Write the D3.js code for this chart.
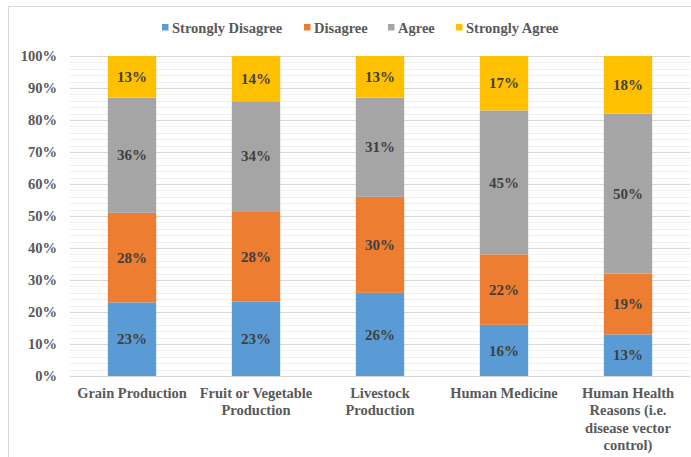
<!DOCTYPE html>
<html>
<head>
<meta charset="utf-8">
<script src="https://cdn.jsdelivr.net/npm/d3@7"></script>
<style>
  html, body { margin: 0; padding: 0; background: #fff; }
  svg { display: block; }
  svg text { font-family: "Liberation Serif", "DejaVu Serif", serif !important; font-weight: bold; }
</style>
</head>
<body>
<svg id="chart" width="691" height="457"></svg>
<script>
const categories = ["Grain Production", "Fruit or Vegetable\nProduction", "Livestock\nProduction", "Human Medicine", "Human Health\nReasons (i.e.\ndisease vector\ncontrol)"];
const seriesNames = ["Strongly Disagree", "Disagree", "Agree", "Strongly Agree"];
const stronglyDisagree = [23, 23, 26, 16, 13];
const disagree = [28, 28, 30, 22, 19];
const agree = [36, 34, 31, 45, 50];
const stronglyAgree = [13, 14, 13, 17, 18];
const yTicks = [0, 10, 20, 30, 40, 50, 60, 70, 80, 90, 100];
const colors = ["#5B9BD5", "#ED7D31", "#A5A5A5", "#FFC000"];

const seriesValues = [stronglyDisagree, disagree, agree, stronglyAgree];
const table = categories.map((c, i) => {
  const row = { category: c };
  seriesNames.forEach((s, j) => row[s] = seriesValues[j][i]);
  return row;
});

const svg = d3.select("#chart");
const margin = { left: 70, right: 1, top: 56, bottom: 81 };
const W = 691, H = 457;

svg.append("rect").attr("x", 8.5).attr("y", 6.5).attr("width", 700).attr("height", 470)
  .attr("fill", "none").attr("stroke", "#d9d9d9").attr("stroke-width", 1);

const x = d3.scaleBand().domain(categories).range([margin.left, W - margin.right]).paddingInner(0.61).paddingOuter(0.305);
const y = d3.scaleLinear().domain([0, 1]).range([H - margin.bottom, margin.top]);

const minor = d3.range(0, 101, 2).filter(v => v % 10 !== 0);
svg.append("g").selectAll("line").data(minor).join("line")
  .attr("x1", margin.left).attr("x2", W - margin.right)
  .attr("y1", d => Math.round(y(d / 100)) + 0.5).attr("y2", d => Math.round(y(d / 100)) + 0.5)
  .attr("stroke", "#efefef").attr("stroke-width", 1);

const yAxis = d3.axisLeft(y).tickValues(yTicks.map(v => v / 100)).tickFormat(d => Math.round(d * 100) + "%")
  .tickSize(-(W - margin.right - margin.left)).tickPadding(13);
const gy = svg.append("g").attr("transform", `translate(${margin.left},0)`).call(yAxis);
gy.attr("font-family", null);
gy.select(".domain").remove();
gy.selectAll(".tick line").attr("stroke", "#d9d9d9").attr("stroke-width", 1.2);
gy.selectAll(".tick text").attr("fill", "#595959").style("font-size", "14.5px");

const stack = d3.stack().keys(seriesNames).offset(d3.stackOffsetExpand);
const stacked = stack(table);

const groups = svg.append("g").selectAll("g").data(stacked).join("g")
  .attr("fill", (d, i) => colors[i]);
groups.selectAll("rect").data(d => d).join("rect")
  .attr("x", d => x(d.data.category))
  .attr("width", x.bandwidth())
  .attr("y", d => y(d[1]))
  .attr("height", d => y(d[0]) - y(d[1]));

const labels = svg.append("g");
stacked.forEach((s, i) => {
  labels.selectAll(null).data(s).join("text")
    .attr("x", d => x(d.data.category) + x.bandwidth() / 2)
    .attr("y", d => (y(d[0]) + y(d[1])) / 2)
    .attr("dy", "0.35em")
    .attr("text-anchor", "middle")
    .attr("fill", "#404040")
    .style("font-size", "15px")
    .text(d => d.data[s.key] + "%");
});

const xl = svg.append("g");
categories.forEach(c => {
  const lines = c.split("\n");
  const t = xl.append("text")
    .attr("x", x(c) + x.bandwidth() / 2)
    .attr("y", 398)
    .attr("text-anchor", "middle")
    .attr("fill", "#595959")
    .style("font-size", "14.5px");
  lines.forEach((ln, k) => {
    t.append("tspan").attr("x", x(c) + x.bandwidth() / 2).attr("y", 398 + k * 17.4).text(ln);
  });
});

svg.append("line").attr("x1", margin.left).attr("x2", W - margin.right)
  .attr("y1", Math.round(y(0)) + 0.5).attr("y2", Math.round(y(0)) + 0.5)
  .attr("stroke", "#d9d9d9").attr("stroke-width", 1.2);

const legendX = [162, 304, 388, 456];
const lg = svg.append("g");
seriesNames.forEach((s, i) => {
  lg.append("rect").attr("x", legendX[i]).attr("y", 24).attr("width", 6.5).attr("height", 6.5).attr("fill", colors[i]);
  lg.append("text").attr("x", legendX[i] + 10).attr("y", 32.5).attr("fill", "#595959")
    .style("font-size", "14.5px").text(s);
});
</script>
</body>
</html>
